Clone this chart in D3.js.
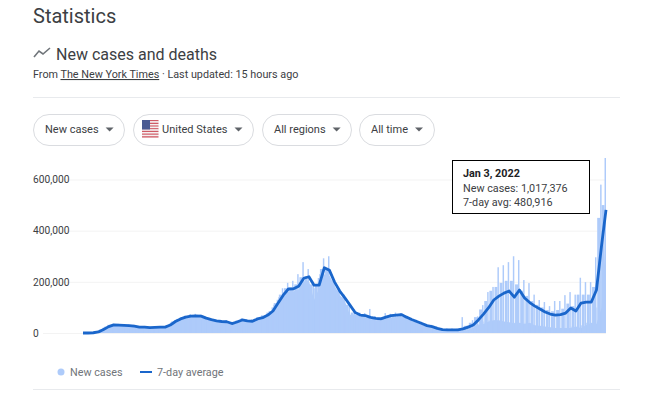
<!DOCTYPE html>
<html>
<head>
<meta charset="utf-8">
<script src="https://cdnjs.cloudflare.com/ajax/libs/d3/7.8.5/d3.min.js"></script>
<style>
  html, body { margin: 0; padding: 0; background: #fff; overflow: hidden; }
  svg { display: block; font-family: Roboto, sans-serif; }
</style>
</head>
<body>
<div id="chart"></div>
<script>
// Weekly readings, in thousands of cases. Last entry is Jan 3, 2022.
const avgCases = [0,0,1,4,14,25,32,31,30,29,27,23,23,21,22,23,23,31,45,55,62,66,67,66,58,52,47,45,44,37,43,51,47,46,55,60,70,86,117,148,172,173,183,214,220,187,187,255,245,199,164,137,109,80,70,68,61,57,55,62,68,70,72,62,53,45,37,29,25,18,13,12,12,12,16,23,31,51,74,99,129,144,156,164,140,168,137,119,105,94,82,74,70,72,78,98,86,117,121,121,168,343,481];
const peakCases = [0,0,1,6,20,32,36,36,35,33,32,27,27,26,26,27,27,36,50,60,68,74,75,72,63,58,52,50,50,44,50,58,53,53,62,70,80,100,130,175,196,204,230,277,250,200,215,292,300,195,175,150,120,92,80,78,94,66,62,78,75,80,78,70,60,52,44,35,32,25,20,18,18,17,62,30,50,65,109,160,180,257,265,277,300,285,207,195,150,129,121,105,125,125,148,160,150,216,199,199,296,580,1017];
const midCases = [0,0,1,4,14,25,32,31,30,29,27,23,23,21,22,23,23,31,45,55,62,66,67,66,58,52,47,45,44,37,43,51,47,46,55,60,70,86,117,150,175,178,190,218,222,190,190,250,250,202,166,139,110,80,70,68,61,57,55,62,68,70,72,62,53,45,37,29,25,18,13,12,12,12,18,28,40,62,92,125,165,180,196,204,204,190,165,145,125,110,100,90,85,90,95,115,105,150,150,150,180,450,500];
const lowCases = [0,0,1,3,12,22,29,28,27,26,24,20,20,18,19,20,20,28,42,52,58,62,63,62,54,48,43,41,40,33,39,47,43,42,50,55,64,80,110,140,160,162,170,200,205,130,175,230,225,185,150,125,70,72,63,60,55,50,48,55,60,62,65,55,47,40,32,25,20,14,9,8,8,8,8,12,20,30,35,45,50,50,45,42,38,40,35,40,30,28,25,22,20,20,20,20,25,20,30,40,35,100,400];
const yTicks = [0, 200000, 400000, 600000];

const filterLabels = ["New cases", "United States", "All regions", "All time"];
const tipLines = ["New cases: 1,017,376", "7-day avg: 480,916"];

const width = 657, height = 395;
const textDark = "#3c4043", textGrey = "#70757a", hairline = "#e8eaed";
const fillBlue = "#aecbfa", lineBlue = "#1a66cb";

const svg = d3.select("#chart").append("svg")
  .attr("width", width)
  .attr("height", height);

// — Header —
svg.append("text").attr("x", 33).attr("y", 23)
  .style("font-size", "20px").style("fill", textDark).text("Statistics");

svg.append("path")
  .attr("d", "M34,57L39,51L43,54L50,48")
  .attr("fill", "none").attr("stroke", "#70757a").attr("stroke-width", 1.6);

svg.append("text").attr("x", 56).attr("y", 60)
  .style("font-size", "16px").style("fill", textDark).text("New cases and deaths");

const source = svg.append("text").attr("x", 33).attr("y", 78)
  .style("font-size", "10.8px").style("fill", textDark);
source.append("tspan").text("From ");
source.append("tspan").style("text-decoration", "underline").text("The New York Times");
source.append("tspan").text(" · Last updated: 15 hours ago");

svg.append("line").attr("x1", 33).attr("x2", 620).attr("y1", 97.5).attr("y2", 97.5)
  .attr("stroke", hairline);
svg.append("line").attr("x1", 33).attr("x2", 620).attr("y1", 389.5).attr("y2", 389.5)
  .attr("stroke", hairline);

// — Filter chips —
const chipBoxes = [[33.5, 91], [133.5, 120], [262.5, 89], [359.5, 75]];
const chipTextX = [45, 162, 274, 371];
filterLabels.forEach((label, i) => {
  svg.append("rect")
    .attr("x", chipBoxes[i][0]).attr("y", 114.5)
    .attr("width", chipBoxes[i][1]).attr("height", 31)
    .attr("rx", 15.5)
    .attr("fill", "#fff").attr("stroke", "#dadce0");
  const t = svg.append("text")
    .attr("x", chipTextX[i]).attr("y", 133)
    .style("font-size", "11px").style("fill", textDark).text(label);
  const end = t.node().getComputedTextLength() + chipTextX[i];
  svg.append("path")
    .attr("d", `M${end + 7},127.5L${end + 15},127.5L${end + 11},131.5Z`)
    .attr("fill", "#5f6368");
});

// small US flag in the second chip
const flag = svg.append("g").attr("transform", "translate(142,120)");
d3.range(13).forEach(i => {
  flag.append("rect")
    .attr("y", i * 1.35).attr("width", 16.5).attr("height", 1.35)
    .attr("fill", i % 2 ? "#f4f0f0" : "#cf5b66");
});
flag.append("rect").attr("width", 8).attr("height", 9.5).attr("fill", "#4a5a92");

// — Plot —
const startDate = new Date(2020, 0, 21), endDate = new Date(2022, 0, 3);
const weekDates = d3.timeDay.range(startDate, endDate, 7).concat([endDate]);

const x = d3.scaleTime().domain([startDate, endDate]).range([83, 606]);
const y = d3.scaleLinear().domain([0, 600000]).range([333, 179.5]);
const dayOffset = (d, n) => x(d3.timeDay.offset(d, n));

const yAxis = svg.append("g")
  .attr("transform", "translate(606,0)")
  .call(d3.axisLeft(y).tickValues(yTicks).tickFormat(d3.format(",")).tickSize(563).tickPadding(0));
yAxis.select(".domain").remove();
yAxis.selectAll("line").attr("stroke", "#f3f3f3");
yAxis.selectAll("text")
  .attr("x", 33 - 606).attr("text-anchor", "start")
  .style("font-family", "Roboto, sans-serif").style("font-size", "10.2px").style("fill", textDark);

svg.append("clipPath").attr("id", "plot-clip")
  .append("rect").attr("x", 60).attr("y", 158).attr("width", 560).attr("height", 175);

const plot = svg.append("g").attr("clip-path", "url(#plot-clip)").attr("fill", fillBlue);

// solid body under the bars, so the thin bars leave no seams
plot.append("path")
  .datum(lowCases)
  .attr("d", d3.area()
    .x((d, i) => x(weekDates[i]))
    .y0(y(0))
    .y1(d => y(d * 1000)));

// each week is drawn as a low day, a run of typical days, then the peak day
function drawBars(values, from, to) {
  plot.append("g").selectAll("rect")
    .data(weekDates)
    .join("rect")
      .attr("x", d => dayOffset(d, from))
      .attr("width", d => dayOffset(d, to) - dayOffset(d, from))
      .attr("y", (d, i) => y(values[i] * 1000))
      .attr("height", (d, i) => y(0) - y(values[i] * 1000));
}
drawBars(lowCases, -7, -6);
drawBars(midCases, -6, -1.5);
drawBars(peakCases, -1.5, 0.5);

const line = d3.line()
  .x((d, i) => x(weekDates[i]))
  .y(d => y(d * 1000));

svg.append("path")
  .datum(avgCases)
  .attr("fill", "none")
  .attr("stroke", lineBlue)
  .attr("stroke-width", 2.8)
  .attr("stroke-linejoin", "round")
  .attr("d", line);

// — Tooltip —
svg.append("rect")
  .attr("x", 452.5).attr("y", 160.5).attr("width", 137).attr("height", 53)
  .attr("fill", "#fff").attr("stroke", "#000");
svg.append("text").attr("x", 463).attr("y", 177)
  .style("font-size", "10.8px").style("font-weight", "700").style("fill", "#202124")
  .text("Jan 3, 2022");
tipLines.forEach((t, i) => {
  svg.append("text").attr("x", 463).attr("y", 192 + i * 14)
    .style("font-size", "10.8px").style("fill", textDark).text(t);
});

// — Legend —
svg.append("circle").attr("cx", 61).attr("cy", 372).attr("r", 3.5).attr("fill", fillBlue);
svg.append("text").attr("x", 70).attr("y", 376)
  .style("font-size", "10.8px").style("fill", textGrey).text("New cases");
svg.append("line").attr("x1", 140).attr("x2", 152).attr("y1", 372).attr("y2", 372)
  .attr("stroke", lineBlue).attr("stroke-width", 2);
svg.append("text").attr("x", 157).attr("y", 376)
  .style("font-size", "10.8px").style("fill", textGrey).text("7-day average");
</script>
</body>
</html>
